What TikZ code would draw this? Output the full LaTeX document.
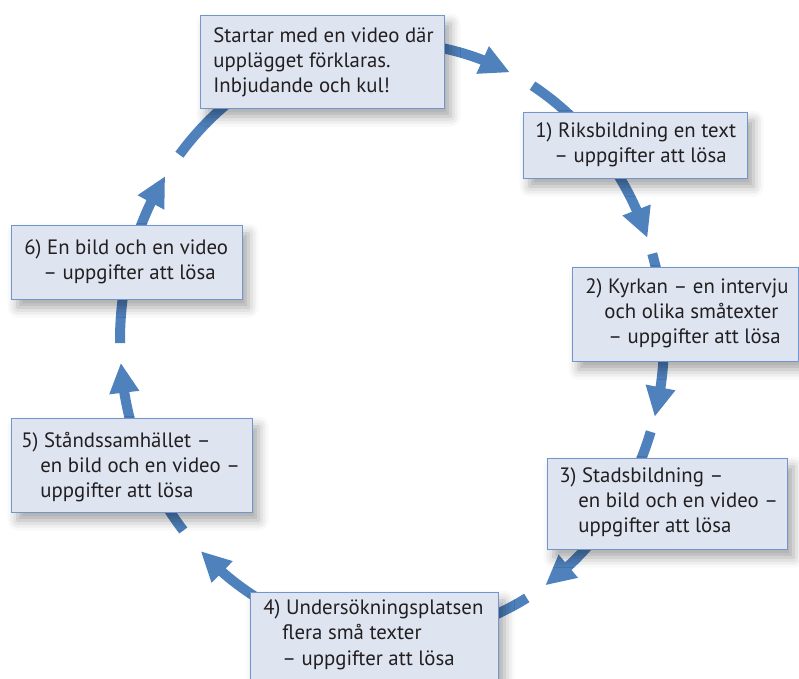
\documentclass[tikz,border=0pt]{standalone}
\usepackage{fontspec}
\setmainfont{PT Sans}
\usetikzlibrary{arrows.meta,bending,calc,shadows.blur}
\definecolor{arrblue}{HTML}{4F81BD}
\definecolor{boxfill}{HTML}{DEE5F1}
\definecolor{boxline}{HTML}{7196CE}
\definecolor{txt}{HTML}{231F20}
\newcommand\myind{\hspace*{9.5pt}}
\begin{document}
\begin{tikzpicture}[x=0.5pt,y=-0.5pt,
  arr/.style={draw=arrblue, line width=5pt, -{Triangle[length=15pt,width=14pt,flex]}},
  box/.style={draw=boxline, line width=0.6pt, fill=boxfill, anchor=north west, inner sep=0pt,
    blur shadow={shadow xshift=3pt, shadow yshift=-4pt, shadow blur radius=5pt, shadow opacity=35}},
  lbl/.style={anchor=base west, inner sep=0pt, text=txt, font=\fontsize{10.4}{12.5}\selectfont}]
\clip (0,0) rectangle (799,679);
\coordinate (c) at (392,340);
% arrows (ellipse segments)
\draw[arr] ($(c)+(218.6:272 and 297)$) arc[start angle=218.6, end angle=295.7, x radius=272, y radius=297];
\draw[arr] ($(c)+(301.1:272 and 297)$) arc[start angle=301.1, end angle=339.9, x radius=272, y radius=297];
\draw[arr] ($(c)+(343.1:272 and 297)$) arc[start angle=343.1, end angle=375.0, x radius=272, y radius=297];
\draw[arr] ($(c)+(378.0:272 and 297)$) arc[start angle=378.0, end angle=415.7, x radius=272, y radius=297];
\draw[arr] ($(c)+(420.3:272 and 297)$) arc[start angle=420.3, end angle=494.7, x radius=272, y radius=297];
\draw[arr] ($(c)+(500.1:272 and 297)$) arc[start angle=500.1, end angle=535.6, x radius=272, y radius=297];
\draw[arr] ($(c)+(539.4:272 and 297)$) arc[start angle=539.4, end angle=573.5, x radius=272, y radius=297];
% boxes
\node[box, minimum width=122pt, minimum height=46.5pt] (b0) at (200,15) {};
\node[box, minimum width=112pt, minimum height=33pt] (b1) at (523,112) {};
\node[box, minimum width=113pt, minimum height=47pt] (b2) at (572,267) {};
\node[box, minimum width=120pt, minimum height=45.5pt] (b3) at (547,458) {};
\node[box, minimum width=124pt, minimum height=54pt] (b4) at (250,592) {};
\node[box, minimum width=120.5pt, minimum height=47pt] (b5) at (11,418) {};
\node[box, minimum width=115.5pt, minimum height=37pt] (b6) at (11,225) {};
% texts
\node[lbl] (t0) at (213,43) {\vtop{\hbox{Startar med en video där}\hbox{upplägget förklaras.}\hbox{Inbjudande och kul!}}};
\node[lbl] (t1) at (535,138) {\vtop{\hbox{1) Riksbildning en text}\hbox{\myind– uppgifter att lösa}}};
\node[lbl] (t2) at (585,294) {\vtop{\hbox{2) Kyrkan – en intervju}\hbox{\myind och olika småtexter}\hbox{\hspace*{11.5pt}– uppgifter att lösa}}};
\node[lbl] (t3) at (559,483) {\vtop{\hbox{3) Stadsbildning –}\hbox{\myind en bild och en video –}\hbox{\myind uppgifter att lösa}}};
\node[lbl] (t4) at (263,615) {\vtop{\hbox{4) Undersökningsplatsen}\hbox{\myind flera små texter}\hbox{\myind– uppgifter att lösa}}};
\node[lbl] (t5) at (21,448) {\vtop{\hbox{5) Ståndssamhället –}\hbox{\myind en bild och en video –}\hbox{\myind uppgifter att lösa}}};
\node[lbl] (t6) at (24,255) {\vtop{\hbox{6) En bild och en video}\hbox{\myind– uppgifter att lösa}}};
\end{tikzpicture}
\end{document}
